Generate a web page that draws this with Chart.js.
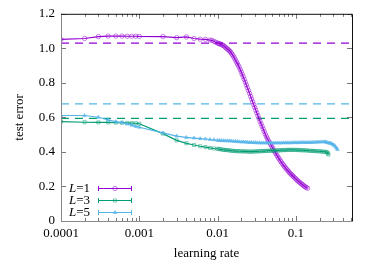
<!DOCTYPE html>
<html>
<head>
<meta charset="utf-8">
<script src="https://cdn.jsdelivr.net/npm/chart.js@4/dist/chart.umd.min.js"></script>
<style>
  html, body { margin: 0; padding: 0; background: #fff; }
</style>
</head>
<body>
<canvas id="errChart" width="374" height="262"></canvas>
<script>
// learning rate / test error
const lrL1 = [0.0001, 0.0002, 0.0003, 0.0004, 0.0005, 0.0006, 0.0007, 0.0008, 0.0009, 0.001,
  0.002, 0.003, 0.004, 0.005, 0.006, 0.007, 0.008, 0.0085, 0.009, 0.0095, 0.01,
  0.0103, 0.0106, 0.011, 0.0113, 0.0116, 0.012, 0.0124, 0.0128, 0.0132, 0.0136, 0.014,
  0.0144, 0.0148, 0.0152, 0.0157, 0.0162, 0.0167, 0.0172, 0.0177, 0.0182, 0.0188, 0.0194,
  0.02, 0.0206, 0.0212, 0.0219, 0.0226, 0.0233, 0.024, 0.0248, 0.0256, 0.0264, 0.0272,
  0.028, 0.0289, 0.0298, 0.0307, 0.0317, 0.0327, 0.0337, 0.0348, 0.0359, 0.037, 0.0382,
  0.0394, 0.0406, 0.0419, 0.0432, 0.0446, 0.046, 0.0475, 0.049, 0.0505, 0.052, 0.0537,
  0.0554, 0.0571, 0.0589, 0.0607, 0.0626, 0.0646, 0.0666, 0.0687, 0.0709, 0.0731, 0.0754,
  0.0778, 0.0802, 0.0827, 0.0853, 0.088, 0.0908, 0.0936, 0.0966, 0.0996, 0.1027, 0.106,
  0.1093, 0.1127, 0.1163, 0.12, 0.1237, 0.1276, 0.1316, 0.1358, 0.141];
const errL1 = [1.052, 1.057, 1.068, 1.071, 1.071, 1.071, 1.07, 1.07, 1.07, 1.069,
  1.068, 1.062, 1.066, 1.057, 1.053, 1.052, 1.048, 1.046, 1.04, 1.035, 1.03,
  1.028, 1.026, 1.024, 1.021, 1.018, 1.015, 1.009, 1.003, 0.998, 0.993, 0.988,
  0.982, 0.975, 0.967, 0.958, 0.948, 0.937, 0.926, 0.915, 0.904, 0.892, 0.878,
  0.864, 0.85, 0.836, 0.82, 0.804, 0.788, 0.772, 0.756, 0.739, 0.722, 0.706,
  0.69, 0.674, 0.658, 0.642, 0.626, 0.61, 0.594, 0.578, 0.563, 0.548, 0.533,
  0.518, 0.503, 0.49, 0.478, 0.466, 0.454, 0.443, 0.432, 0.421, 0.41, 0.4,
  0.39, 0.38, 0.37, 0.361, 0.352, 0.343, 0.334, 0.326, 0.318, 0.31, 0.302,
  0.295, 0.288, 0.281, 0.274, 0.268, 0.262, 0.256, 0.25, 0.244, 0.238, 0.232,
  0.227, 0.222, 0.217, 0.212, 0.207, 0.202, 0.198, 0.194, 0.19];

const lrL3 = [0.0001, 0.0002, 0.0003, 0.0004, 0.0005, 0.0006, 0.0007, 0.0008, 0.0009, 0.001,
  0.002, 0.003, 0.004, 0.005, 0.006, 0.007, 0.008, 0.009, 0.01,
  0.0105, 0.011, 0.0116, 0.0122, 0.0128, 0.0135, 0.0142, 0.015, 0.0158, 0.0167, 0.0176,
  0.0186, 0.0196, 0.0207, 0.0218, 0.023, 0.0243, 0.0256, 0.027, 0.0285, 0.03, 0.0317,
  0.0334, 0.0352, 0.0372, 0.0392, 0.0414, 0.0436, 0.046, 0.0486, 0.0512, 0.054, 0.057,
  0.0602, 0.0635, 0.067, 0.0707, 0.0746, 0.0787, 0.083, 0.0876, 0.0924, 0.0975, 0.103,
  0.1085, 0.1145, 0.121, 0.1275, 0.1345, 0.142, 0.15, 0.158, 0.167, 0.176, 0.186, 0.196,
  0.207, 0.218, 0.23, 0.243, 0.25, 0.255, 0.26];
const errL3 = [0.576, 0.572, 0.571, 0.571, 0.57, 0.569, 0.568, 0.567, 0.566, 0.563,
  0.506, 0.467, 0.45, 0.44, 0.433, 0.428, 0.423, 0.42, 0.418,
  0.417, 0.415, 0.413, 0.412, 0.411, 0.41, 0.409, 0.407, 0.406, 0.405, 0.405,
  0.404, 0.404, 0.403, 0.403, 0.403, 0.402, 0.402, 0.402, 0.402, 0.403, 0.403,
  0.404, 0.404, 0.405, 0.405, 0.406, 0.406, 0.407, 0.407, 0.408, 0.408, 0.409,
  0.409, 0.41, 0.41, 0.411, 0.411, 0.412, 0.412, 0.412, 0.412, 0.412, 0.411,
  0.411, 0.41, 0.41, 0.409, 0.409, 0.408, 0.407, 0.406, 0.406, 0.405, 0.404, 0.404,
  0.403, 0.402, 0.401, 0.4, 0.398, 0.392, 0.385];

const lrL5 = [0.0001, 0.0002, 0.0003, 0.0004, 0.0005, 0.0006, 0.0007, 0.0008, 0.0009, 0.001,
  0.002, 0.003, 0.004, 0.005, 0.006, 0.007, 0.008, 0.009, 0.01,
  0.0106, 0.0112, 0.0119, 0.0126, 0.0134, 0.0142, 0.015, 0.016, 0.017, 0.018, 0.019,
  0.0202, 0.0214, 0.0227, 0.024, 0.0255, 0.027, 0.0287, 0.0304, 0.0322, 0.0342, 0.0362,
  0.0384, 0.0407, 0.0432, 0.0458, 0.0485, 0.0514, 0.0545, 0.0578, 0.0613, 0.065, 0.0689,
  0.073, 0.0774, 0.0821, 0.087, 0.0923, 0.0978, 0.1037, 0.11, 0.1166, 0.1236, 0.131,
  0.139, 0.147, 0.156, 0.165, 0.175, 0.186, 0.197, 0.209, 0.221, 0.234, 0.24, 0.25,
  0.26, 0.27, 0.28, 0.29, 0.3, 0.31, 0.32, 0.33, 0.34];
const errL5 = [0.611, 0.611, 0.601, 0.586, 0.575, 0.57, 0.562, 0.555, 0.548, 0.543,
  0.51, 0.492, 0.484, 0.48, 0.477, 0.475, 0.472, 0.47, 0.467,
  0.466, 0.466, 0.465, 0.465, 0.464, 0.464, 0.463, 0.462, 0.461, 0.46, 0.459,
  0.458, 0.458, 0.457, 0.456, 0.455, 0.455, 0.454, 0.454, 0.453, 0.453, 0.452,
  0.452, 0.452, 0.452, 0.452, 0.452, 0.452, 0.452, 0.452, 0.452, 0.452, 0.453,
  0.453, 0.453, 0.453, 0.453, 0.454, 0.454, 0.454, 0.454, 0.455, 0.455, 0.455,
  0.455, 0.455, 0.455, 0.456, 0.456, 0.457, 0.457, 0.458, 0.458, 0.459, 0.457, 0.455,
  0.452, 0.451, 0.45, 0.446, 0.44, 0.438, 0.43, 0.422, 0.414];

// horizontal dashed reference levels
const refLevels = [1.03, 0.678, 0.594];
const refColors = ['#9400d3', '#56b4e9', '#009e73'];

const seriesNames = ['1', '3', '5'];
const xTickLabels = ['0.0001', '0.001', '0.01', '0.1'];
const xMin = 0.0001, xMax = 0.52;

const toPts = (xs, ys) => xs.map((x, i) => ({ x: x, y: ys[i] }));

const serif = "'Liberation Serif', 'DejaVu Serif', serif";

const series = [
  { name: seriesNames[0], xs: lrL1, ys: errL1, color: '#9400d3', fill: 'rgba(148,0,211,0.5)', style: 'circle' },
  { name: seriesNames[1], xs: lrL3, ys: errL3, color: '#009e73', fill: 'rgba(0,158,115,0.5)', style: 'rect' },
  { name: seriesNames[2], xs: lrL5, ys: errL5, color: '#56b4e9', fill: 'rgba(86,180,233,0.6)', style: 'triangle' }
];

const datasets = [];
series.forEach((s, i) => {
  datasets.push({
    label: 'L=' + s.name,
    data: toPts(s.xs, s.ys),
    borderColor: s.color,
    borderWidth: 1.2,
    pointStyle: s.style,
    pointRadius: s.style === 'triangle' ? 2 : 2.2,
    pointBorderWidth: 1,
    pointBorderColor: s.fill,
    pointBackgroundColor: s.style === 'triangle' ? s.fill : 'rgba(255,255,255,0)',
    tension: 0,
    order: 3 - i
  });
});
refLevels.forEach((lvl, i) => {
  datasets.push({
    label: 'ref' + i,
    data: [{ x: xMin, y: lvl }, { x: xMax, y: lvl }],
    borderColor: refColors[i],
    borderWidth: 1.3,
    borderDash: [8, 6],
    pointRadius: 0,
    order: 10
  });
});

// frame, inward ticks and legend like gnuplot
const framePlugin = {
  id: 'frame',
  afterDraw(chart) {
    const c = chart.ctx;
    const a = chart.chartArea;
    const xs = chart.scales.x, ys = chart.scales.y;
    c.save();
    c.lineWidth = 1;
    // ticks
    c.strokeStyle = '#777';
    for (let v = 0; v <= 1.2001; v += 0.2) {
      const py = Math.round(ys.getPixelForValue(v)) + 0.5;
      c.beginPath();
      c.moveTo(a.left, py); c.lineTo(a.left + 5, py);
      c.moveTo(a.right, py); c.lineTo(a.right - 5, py);
      c.stroke();
    }
    for (let e = -4; e <= 0; e++) {
      for (let m = 1; m <= 9; m++) {
        const v = m * Math.pow(10, e);
        if (v < xMin || v > xMax) continue;
        const px = Math.round(xs.getPixelForValue(v)) + 0.5;
        const len = m === 1 ? 5 : 3;
        c.beginPath();
        c.moveTo(px, a.bottom); c.lineTo(px, a.bottom - len);
        c.moveTo(px, a.top); c.lineTo(px, a.top + len);
        c.stroke();
      }
    }
    // border
    c.strokeStyle = '#888';
    c.beginPath();
    c.moveTo(a.left + 0.5, a.top); c.lineTo(a.left + 0.5, a.bottom + 0.5); c.lineTo(a.right, a.bottom + 0.5);
    c.stroke();
    c.strokeStyle = '#111';
    c.beginPath();
    c.moveTo(a.left, a.top + 0.5); c.lineTo(a.right + 0.5, a.top + 0.5); c.lineTo(a.right + 0.5, a.bottom + 0.5);
    c.stroke();

    // legend
    const rowY = [188, 200, 212];
    series.forEach((s, i) => {
      const y = rowY[i];
      c.font = '13px ' + serif;
      c.textBaseline = 'middle';
      c.fillStyle = '#000';
      const rest = '=' + s.name;
      const wRest = c.measureText(rest).width;
      const textRight = 90;
      c.textAlign = 'right';
      c.fillText(rest, textRight, y + 1);
      c.font = 'italic 13px ' + serif;
      c.fillText('L', textRight - wRest, y + 1);
      c.strokeStyle = s.color;
      c.lineWidth = 1;
      const x0 = 98, x1 = 132;
      c.beginPath();
      c.moveTo(x0, y + 0.5); c.lineTo(x1, y + 0.5);
      c.moveTo(x0 + 0.5, y - 2); c.lineTo(x0 + 0.5, y + 3);
      c.moveTo(x1 - 0.5, y - 2); c.lineTo(x1 - 0.5, y + 3);
      c.stroke();
      c.fillStyle = s.style === 'triangle' ? s.fill : 'rgba(255,255,255,0)';
      c.strokeStyle = s.fill;
      c.lineWidth = 1;
      Chart.helpers.drawPoint(c, {
        pointStyle: s.style,
        radius: s.style === 'triangle' ? 2 : 2.2,
        borderWidth: 1
      }, 115, y + 0.5);
    });
    c.restore();
  }
};

new Chart(document.getElementById('errChart').getContext('2d'), {
  type: 'line',
  data: { datasets: datasets },
  options: {
    responsive: false,
    animation: false,
    layout: { padding: { top: 12, right: 22, left: 0, bottom: 0 } },
    scales: {
      x: {
        type: 'logarithmic',
        min: xMin,
        max: xMax,
        grid: { display: false, drawTicks: false },
        border: { display: false },
        ticks: {
          padding: 5,
          maxRotation: 0,
          autoSkip: false,
          font: { family: serif, size: 13 },
          color: '#000',
          callback: function (v) {
            const l = Math.log10(v);
            if (Math.abs(l - Math.round(l)) > 1e-6) return '';
            const idx = Math.round(l) + 4;
            return xTickLabels[idx] || '';
          }
        },
        title: {
          display: true,
          text: 'learning rate',
          font: { family: serif, size: 13 },
          color: '#000',
          padding: { top: 4, bottom: 1 }
        },
        afterFit(scale) { scale.height = 41; }
      },
      y: {
        min: 0,
        max: 1.2,
        grid: { display: false, drawTicks: false },
        border: { display: false },
        ticks: {
          stepSize: 0.2,
          padding: 6,
          font: { family: serif, size: 13 },
          color: '#000'
        },
        title: {
          display: true,
          text: 'test error',
          font: { family: serif, size: 13 },
          color: '#000',
          padding: { top: 12, bottom: 0 }
        },
        afterFit(scale) { scale.width = 61; }
      }
    },
    plugins: {
      legend: { display: false },
      tooltip: { enabled: false }
    }
  },
  plugins: [framePlugin]
});
</script>
</body>
</html>
